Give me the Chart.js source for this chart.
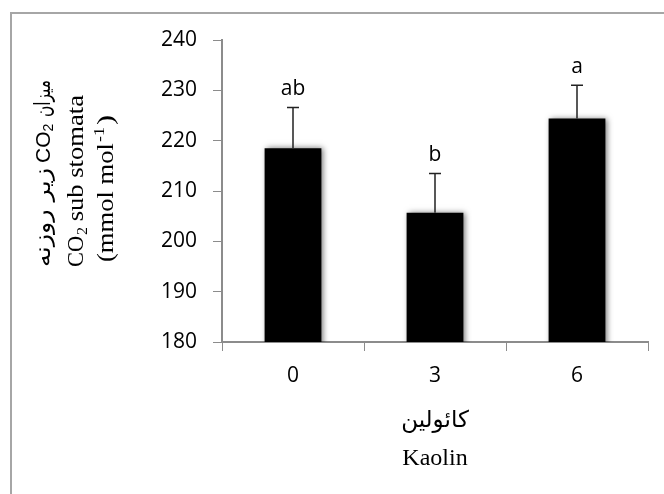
<!DOCTYPE html>
<html>
<head>
<meta charset="utf-8">
<script src="https://cdn.jsdelivr.net/npm/chart.js@4.4.1/dist/chart.umd.min.js"></script>
<style>
  html, body { margin: 0; padding: 0; background: #fff; }
  #wrap { width: 664px; height: 494px; }
</style>
</head>
<body>
<div id="wrap"><canvas id="chart" width="664" height="494"></canvas></div>
<script>
// values
const categories = ['0', '3', '6'];
const means = [218.5, 205.7, 224.4];
const errors = [8.1, 7.8, 6.6];
const letters = ['ab', 'b', 'a'];
const yMin = 180;
const yMax = 240;
const yStep = 10;

const axisGray = '#8c8c8c';

// draws text in the current frame, squeezed/stretched to a given length
function fitText(ctx, text, font, x, y, len) {
  ctx.save();
  ctx.font = font;
  const w = ctx.measureText(text).width;
  ctx.translate(x, y);
  ctx.scale(len / w, 1);
  ctx.fillText(text, 0, 0);
  ctx.restore();
}

const framePlugin = {
  id: 'frame',
  beforeDraw(chart) {
    const ctx = chart.ctx;
    ctx.save();
    ctx.strokeStyle = '#a6a6a6';
    ctx.lineWidth = 2;
    ctx.beginPath();
    ctx.moveTo(664, 13);
    ctx.lineTo(11, 13);
    ctx.lineTo(11, 494);
    ctx.stroke();
    ctx.restore();
  }
};

const shadowPlugin = {
  id: 'barShadow',
  beforeDatasetDraw(chart) {
    const ctx = chart.ctx;
    ctx.save();
    ctx.shadowColor = 'rgba(0,0,0,0.55)';
    ctx.shadowBlur = 6;
    ctx.shadowOffsetX = 2;
    ctx.shadowOffsetY = 0;
  },
  afterDatasetDraw(chart) {
    chart.ctx.restore();
  }
};

const errorPlugin = {
  id: 'errorBars',
  afterDatasetsDraw(chart) {
    const ctx = chart.ctx;
    const y = chart.scales.y;
    const meta = chart.getDatasetMeta(0);
    ctx.save();
    meta.data.forEach((bar, i) => {
      const top = y.getPixelForValue(means[i] + errors[i]);
      ctx.strokeStyle = '#222';
      ctx.lineWidth = 1.5;
      ctx.beginPath();
      ctx.moveTo(bar.x, bar.y);
      ctx.lineTo(bar.x, top);
      ctx.moveTo(bar.x - 6, top);
      ctx.lineTo(bar.x + 6, top);
      ctx.stroke();

      ctx.fillStyle = '#000';
      ctx.font = '21px "Open Sans"';
      ctx.textAlign = 'center';
      ctx.textBaseline = 'alphabetic';
      ctx.fillText(letters[i], bar.x, top - 12);
    });
    ctx.restore();
  }
};

const titlePlugin = {
  id: 'axisTitles',
  afterDraw(chart) {
    const ctx = chart.ctx;
    const area = chart.chartArea;
    const midX = (area.left + area.right) / 2;
    ctx.save();
    ctx.fillStyle = '#000';
    ctx.textBaseline = 'middle';

    // x axis title
    ctx.textAlign = 'center';
    ctx.font = '23px "DejaVu Sans"';
    ctx.fillText('کائولین', midX, 421);
    ctx.font = '24px "Liberation Serif"';
    ctx.fillText('Kaolin', midX, 459);

    // y axis title, three rotated lines
    ctx.textAlign = 'left';
    ctx.save();
    ctx.translate(44, 267);
    ctx.rotate(-Math.PI / 2);
    // line 1, read bottom to top
    fitText(ctx, 'زیر روزنه', '22px "DejaVu Sans"', 0, 0, 99);
    ctx.font = '21px "Liberation Sans"';
    ctx.fillText('CO', 104, 0);
    const coW = ctx.measureText('CO').width;
    ctx.font = '14px "Liberation Sans"';
    ctx.fillText('2', 104 + coW, 5);
    fitText(ctx, 'میزان', '22px "DejaVu Sans"', 150, 0, 37);
    ctx.restore();

    ctx.save();
    ctx.translate(77, 267);
    ctx.rotate(-Math.PI / 2);
    fitText(ctx, 'CO', '23px "Liberation Serif"', 0, 0, 31);
    fitText(ctx, '2', '15px "Liberation Serif"', 32, 6, 8);
    fitText(ctx, ' sub stomata', '23px "Liberation Serif"', 39, 0, 133);
    ctx.restore();

    ctx.save();
    ctx.translate(107, 262);
    ctx.rotate(-Math.PI / 2);
    fitText(ctx, '(mmol mol', '23px "Liberation Serif"', 0, 0, 119);
    fitText(ctx, '-1', '15px "Liberation Serif"', 120, -7, 15);
    fitText(ctx, ')', '23px "Liberation Serif"', 137, 0, 10);
    ctx.restore();

    ctx.restore();
  }
};

new Chart(document.getElementById('chart'), {
  type: 'bar',
  data: {
    labels: categories,
    datasets: [{
      data: means,
      backgroundColor: '#000',
      borderWidth: 0,
      barPercentage: 0.8,
      categoryPercentage: 0.5
    }]
  },
  options: {
    responsive: false,
    animation: false,
    devicePixelRatio: 1,
    layout: { padding: { top: 40, right: 16, bottom: 0, left: 0 } },
    plugins: {
      legend: { display: false },
      tooltip: { enabled: false }
    },
    scales: {
      x: {
        afterFit(scale) { scale.height = 152; },
        border: { color: axisGray, width: 2 },
        grid: {
          offset: true,
          drawOnChartArea: false,
          drawTicks: true,
          tickLength: 9,
          color: axisGray
        },
        ticks: {
          color: '#000',
          font: { family: 'Open Sans', size: 21 },
          padding: 12
        }
      },
      y: {
        min: yMin,
        max: yMax,
        afterFit(scale) { scale.width = 222; },
        border: { color: axisGray, width: 2 },
        grid: {
          drawOnChartArea: false,
          drawTicks: true,
          tickLength: 9,
          color: axisGray
        },
        ticks: {
          stepSize: yStep,
          color: '#000',
          font: { family: 'Open Sans', size: 21 },
          padding: 16
        }
      }
    }
  },
  plugins: [framePlugin, shadowPlugin, errorPlugin, titlePlugin]
});
</script>
</body>
</html>
